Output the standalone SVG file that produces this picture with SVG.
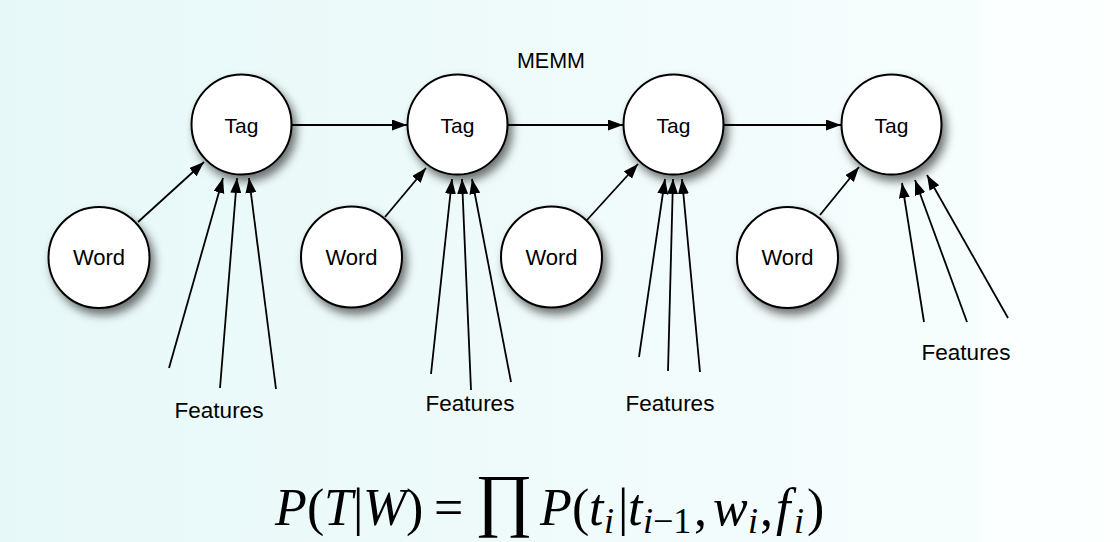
<svg xmlns="http://www.w3.org/2000/svg" width="1120" height="542" viewBox="0 0 1120 542">
<defs>
<linearGradient id="bg" x1="0" y1="0" x2="1120" y2="0" gradientUnits="userSpaceOnUse">
<stop offset="0" stop-color="#e7f8f8"/>
<stop offset="0.87" stop-color="#f6fdfd"/>
<stop offset="0.88" stop-color="#fbffff"/>
<stop offset="1" stop-color="#fdffff"/>
</linearGradient>
<filter id="sh" x="-30%" y="-30%" width="170%" height="170%">
<feDropShadow dx="4" dy="6" stdDeviation="5" flood-color="#000" flood-opacity="0.55"/>
</filter>
<marker id="ah" markerUnits="userSpaceOnUse" markerWidth="16" markerHeight="12" refX="15" refY="5.5" orient="auto">
<path d="M0,0 L15,5.5 L0,11 z" fill="#000"/>
</marker>
</defs>
<style>
.node circle{fill:#fff;stroke:#000;stroke-width:2;filter:url(#sh)}
.lbl{font-family:"Liberation Sans",Arial,sans-serif;fill:#000;text-anchor:middle}
.tag{font-size:21px}
.word{font-size:22px}
.feat{font-size:22.5px}
.edges line{stroke:#000;stroke-width:1.8;marker-end:url(#ah)}
.m{font-family:"Liberation Serif","DejaVu Serif",serif;font-size:52px;fill:#000}
.mi{font-style:italic}
.sub{font-size:36px}
.big{font-size:70px}
</style>
<rect width="1120" height="542" fill="url(#bg)"/>
<text class="lbl" x="551" y="68" font-size="21.5">MEMM</text>

<g class="edges" id="connectors">
<line x1="292" y1="125" x2="407" y2="125"/>
<line x1="508" y1="125" x2="623" y2="125"/>
<line x1="724" y1="125" x2="841" y2="125"/>
<line x1="138" y1="222" x2="204" y2="162"/>
<line x1="385" y1="217" x2="426" y2="168"/>
<line x1="587" y1="220" x2="638" y2="164"/>
<line x1="820" y1="215" x2="859" y2="167"/>
<line x1="169" y1="368" x2="223" y2="178"/>
<line x1="220" y1="388" x2="237" y2="178"/>
<line x1="276" y1="389" x2="249" y2="178"/>
<line x1="431" y1="374" x2="452" y2="179"/>
<line x1="471" y1="390" x2="462" y2="179"/>
<line x1="511" y1="382" x2="472" y2="179"/>
<line x1="639" y1="357" x2="665" y2="179"/>
<line x1="668" y1="371" x2="673" y2="179"/>
<line x1="700" y1="372" x2="682" y2="179"/>
<line x1="924" y1="322" x2="902" y2="183"/>
<line x1="967" y1="322" x2="915" y2="180"/>
<line x1="1008" y1="318" x2="927" y2="175"/>
</g>

<g class="node" id="tag1"><circle cx="241.5" cy="124.5" r="50"/><text class="lbl tag" x="241.5" y="133">Tag</text></g>
<g class="node" id="tag2"><circle cx="457.5" cy="124.5" r="50"/><text class="lbl tag" x="457.5" y="133">Tag</text></g>
<g class="node" id="tag3"><circle cx="673.5" cy="124.5" r="50"/><text class="lbl tag" x="673.5" y="133">Tag</text></g>
<g class="node" id="tag4"><circle cx="891.5" cy="124.5" r="50"/><text class="lbl tag" x="891.5" y="133">Tag</text></g>

<g class="node" id="word1"><circle cx="99" cy="257.5" r="50.5"/><text class="lbl word" x="99" y="265">Word</text></g>
<g class="node" id="word2"><circle cx="351.5" cy="257" r="50.5"/><text class="lbl word" x="351.5" y="265">Word</text></g>
<g class="node" id="word3"><circle cx="551.5" cy="257" r="50.5"/><text class="lbl word" x="551.5" y="265">Word</text></g>
<g class="node" id="word4"><circle cx="787.5" cy="257.5" r="50.5"/><text class="lbl word" x="787.5" y="265">Word</text></g>

<g id="features">
<text class="lbl feat" x="219" y="418">Features</text>
<text class="lbl feat" x="470" y="411">Features</text>
<text class="lbl feat" x="670" y="411">Features</text>
<text class="lbl feat" x="966" y="360">Features</text>
</g>

<g id="formula">
<text class="m" y="525"><tspan class="mi" x="275">P</tspan><tspan x="307">(</tspan><tspan class="mi" x="324">T</tspan><tspan x="353">|</tspan><tspan class="mi" x="363">W</tspan><tspan x="406">)</tspan><tspan x="434">=</tspan></text>
<text class="m big" x="475" y="523">∏</text>
<text class="m" y="525"><tspan class="mi" x="540">P</tspan><tspan x="572">(</tspan><tspan class="mi" x="589">t</tspan><tspan x="618">|</tspan><tspan class="mi" x="628">t</tspan><tspan x="694">,</tspan><tspan class="mi" x="713">w</tspan><tspan x="760">,</tspan><tspan class="mi" x="776">f</tspan><tspan x="807">)</tspan></text>
<text class="m sub" y="533"><tspan class="mi" x="604">i</tspan><tspan class="mi" x="643">i</tspan><tspan x="653">−1</tspan><tspan class="mi" x="748">i</tspan><tspan class="mi" x="794">i</tspan></text>
</g>
</svg>
